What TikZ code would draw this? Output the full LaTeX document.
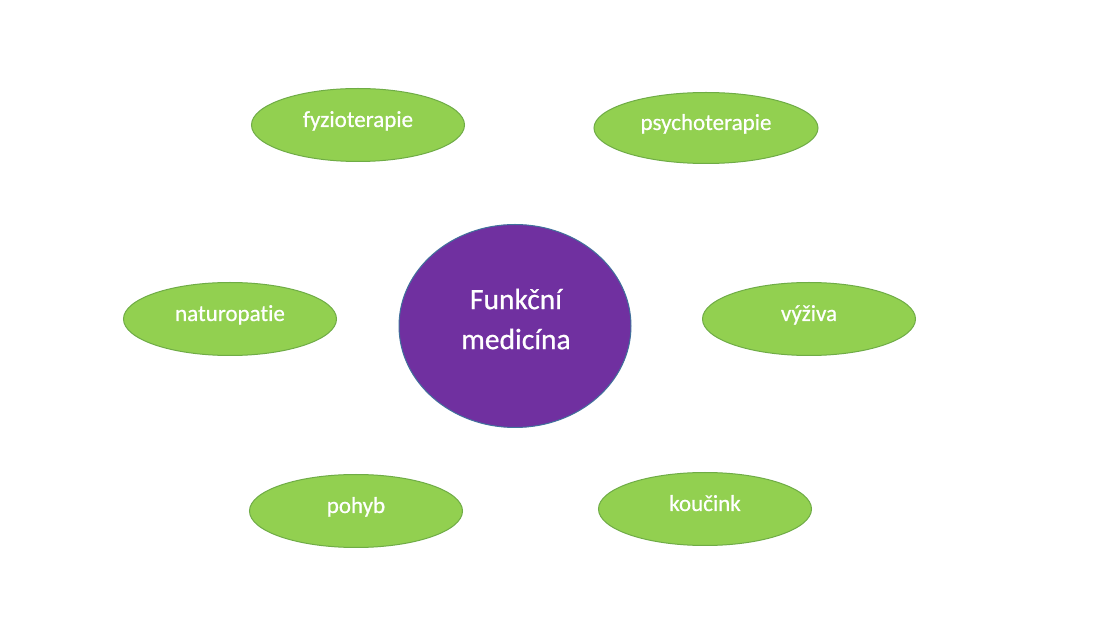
\documentclass[tikz,border=0pt]{standalone}
\usepackage{fontspec}
\setmainfont{Carlito}[Ligatures=NoCommon]
\newfontfamily\labelfont{Carlito}[Ligatures=NoCommon, FakeBold=0.6]
\usetikzlibrary{shapes.geometric}

\definecolor{leaf}{HTML}{92D050}
\definecolor{leafline}{HTML}{6FAC46}
\definecolor{plum}{HTML}{7030A0}
\definecolor{plumline}{HTML}{41719C}

\begin{document}
\begin{tikzpicture}[x=1pt,y=-1pt]

        \useasboundingbox[fill=white] (0,0) rectangle (1104,617);

        \begin{scope}[every node/.style={ellipse, draw=plumline, line width=1pt, fill=plum,
            text=white, inner sep=0pt, minimum width=232pt, minimum height=203pt}]
          \node (0)  at (515,326)  {};
        \end{scope}
        \node[text=white, align=center, font=\labelfont\fontsize{29.5}{40}\selectfont] (0t) at (516,319)
          {Funkční\\medicína};

        \begin{scope}[every node/.style={ellipse, draw=leafline, line width=1pt, fill=leaf,
            text=white, inner sep=0pt, minimum width=213pt, minimum height=73pt,
            text height=17pt, text depth=13pt,
            font=\labelfont\fontsize{23}{26}\selectfont}]
          \node (1)  at (358,125)  {fyzioterapie};
          \node (2)  at (706,128)  [minimum width=224pt, minimum height=71pt] {psychoterapie};
          \node (3)  at (230,319)  {naturopatie};
          \node (4)  at (809,319)  {výživa};
          \node (5)  at (356,511)  {pohyb};
          \node (6)  at (705,509)  {koučink};
        \end{scope}

      \end{tikzpicture}
\end{document}
